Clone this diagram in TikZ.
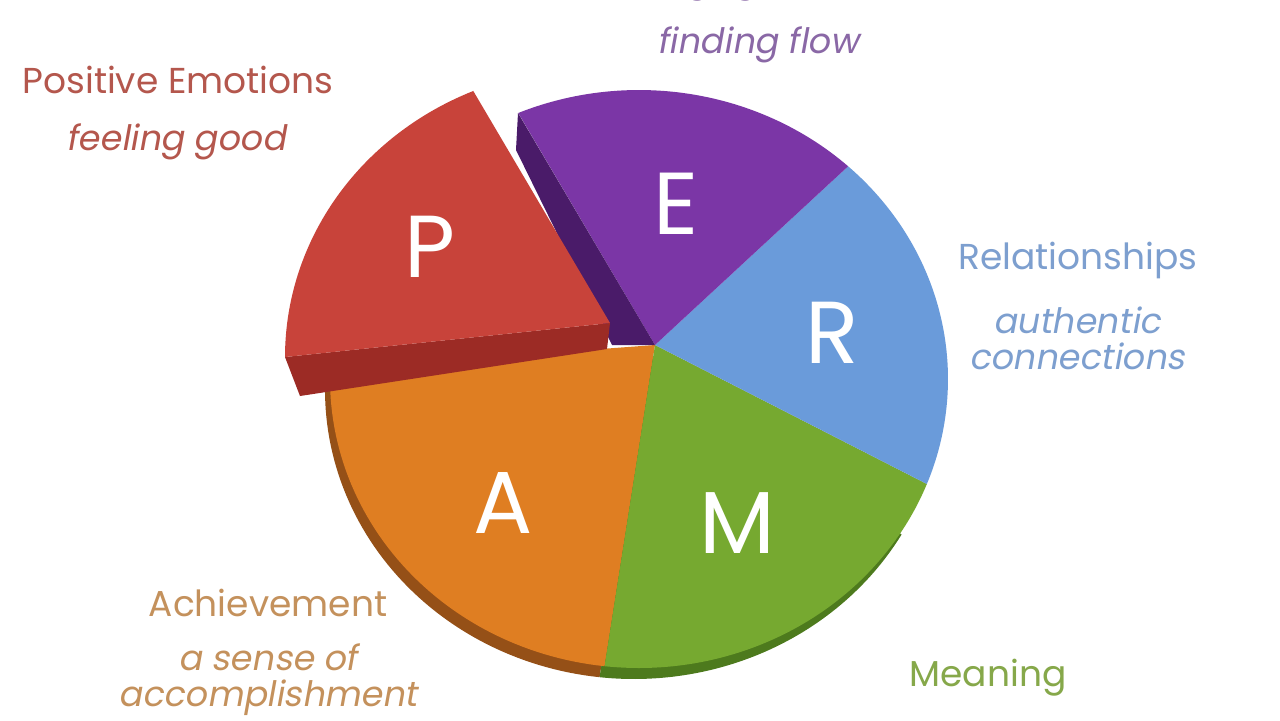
\documentclass[tikz,border=0pt]{standalone}
\usepackage{fontspec}
\setmainfont{Poppins}
\newfontfamily\slfont{Poppins}[FakeSlant=0.18]
\definecolor{cRed}{HTML}{C8433A}
\definecolor{cRedS}{HTML}{9C2B25}
\definecolor{cPur}{HTML}{7B36A6}
\definecolor{cPurS}{HTML}{4A1B69}
\definecolor{cBlu}{HTML}{6A9BDA}
\definecolor{cGre}{HTML}{76A930}
\definecolor{cGreS}{HTML}{4D7A1D}
\definecolor{cOra}{HTML}{DF7E22}
\definecolor{cOraS}{HTML}{955017}
\definecolor{tRed}{HTML}{B4574D}
\definecolor{tPur}{HTML}{8A68A6}
\definecolor{tBlu}{HTML}{7D9FCF}
\definecolor{tOra}{HTML}{C4915C}
\definecolor{tGre}{HTML}{86A84A}
\tikzset{
  lbl/.style={inner sep=0pt, anchor=center, font=\fontsize{18}{20}\selectfont},
  sub/.style={inner sep=0pt, anchor=center, align=center, font=\slfont\fontsize{17.5}{18}\selectfont},
  big/.style={inner sep=0pt, anchor=center, text=white, font=\fontsize{44}{46}\selectfont}
}
\newcommand\pieslice[3]{\fill[#1] (655,345) -- plot[domain=#2:#3,samples=60] ({639+309*cos(\x)},{379-289*sin(\x)}) -- cycle;}
\begin{document}
\begin{tikzpicture}[x=0.5pt,y=-0.5pt]
\useasboundingbox (0,0) rectangle (1280,720);
\fill[white] (0,0) rectangle (1280,720);
\clip (0,0) rectangle (1280,720);
% side of the pie
\begin{scope}[shift={(-5,11)}]
  \pieslice{cOraS}{178}{263.6}
  \pieslice{cGreS}{263.6}{330}
\end{scope}
% top faces
\pieslice{cOra}{178}{263.6}
\pieslice{cGre}{263.6}{338.7}
\pieslice{cBlu}{-21.3}{47.4}
\pieslice{cPur}{47.4}{113}
% purple side wall
\fill[cPurS] (518,113) -- (655,345) -- (612,345) -- (516,150) -- cycle;
% exploded red slice
\fill[cRedS] (285,357) -- (610,323) -- (607,349) -- (300,396) -- cycle;
\begin{scope}[shift={(-45,-22)}]
  \pieslice{cRed}{113}{180}
\end{scope}
% letters
\node[big] (P) at (430,247) {P};
\node[big] (E) at (676,204) {E};
\node[big] (R) at (832,333) {R};
\node[big] (A) at (503,503) {A};
\node[big] (M) at (737,523) {M};
% labels
\node[lbl,text=tRed] (pe) at (178,80) {Positive Emotions};
\node[sub,text=tRed] (pes) at (176,142) {feeling good};
\node[lbl,text=tPur] (en) at (760,-16) {Engagement};
\node[sub,text=tPur] (ens) at (758,45) {finding flow};
\node[lbl,text=tBlu] (re) at (1078,260) {Relationships};
\node[sub,text=tBlu] (res) at (1077,338) {authentic\\connections};
\node[lbl,text=tOra] (ac) at (268,603) {Achievement};
\node[sub,text=tOra] (acs) at (268,680) {a sense of\\accomplishment};
\node[lbl,text=tGre] (me) at (988,678) {Meaning};
\end{tikzpicture}
\end{document}
